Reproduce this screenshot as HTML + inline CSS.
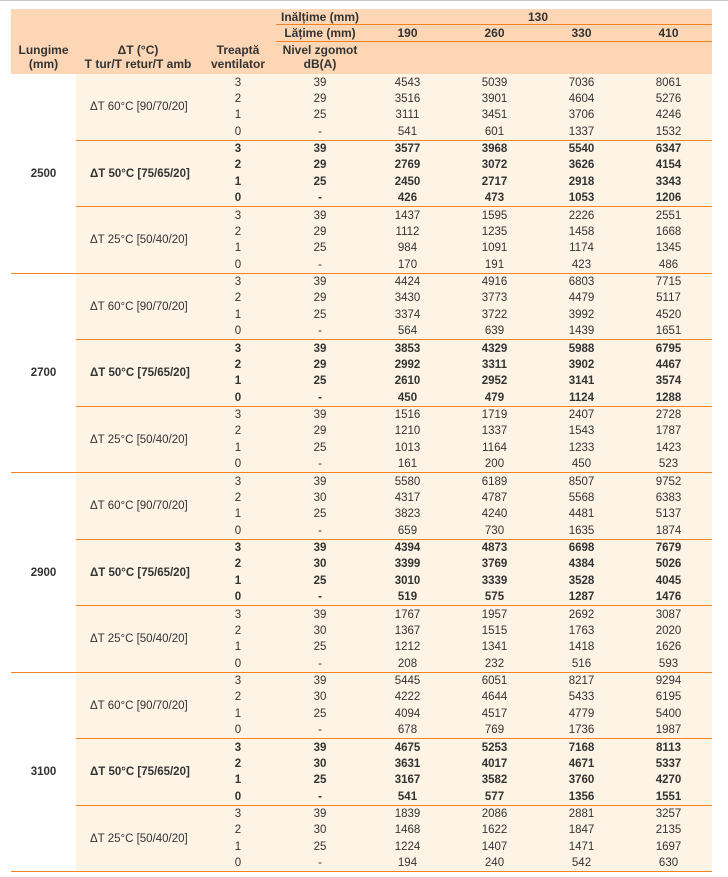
<!DOCTYPE html>
<html><head><meta charset="utf-8"><style>
body{margin:0;width:728px;height:877px;background:#fff;font-family:"Liberation Sans",sans-serif;color:#333;position:relative;overflow:hidden}
.top{position:absolute;left:0;top:0;width:728px;height:1px;background:#c8c8c8}
table{position:absolute;left:11px;top:9px;width:701px;border-collapse:collapse;table-layout:fixed;font-size:11.5px}
td{padding:0;text-align:center;height:16.39px;line-height:14px;white-space:nowrap;background:#fef4e6}
thead td{background:#fcd6b5;font-weight:bold;font-size:12px;line-height:14px}
.hl td.b{border-bottom:1px solid #f58220}
td.L{background:#fff;font-weight:bold}
td.dt{text-align:left;padding-left:14px}
tr.s td{border-top:1px solid #f58220}
tr.g td{border-top:1px solid #f58220}
.bd td{font-weight:bold}
tr.last td, td.LL{border-bottom:1px solid #f58220}
</style></head><body><div class="top"></div>
<table>
<colgroup><col style="width:65px"><col style="width:124px"><col style="width:76px"><col style="width:88px"><col style="width:87px"><col style="width:87px"><col style="width:87px"><col style="width:87px"></colgroup>
<thead>
<tr class="hl"><td rowspan="3" style="vertical-align:bottom;padding-bottom:3px;height:auto">Lungime<br>(mm)</td><td rowspan="3" style="vertical-align:bottom;padding-bottom:3px;height:auto">ΔT (°C)<br>T tur/T retur/T amb</td><td rowspan="3" style="vertical-align:bottom;padding-bottom:3px;height:auto">Treaptă<br>ventilator</td><td class="b" style="height:15px">Inălțime (mm)</td><td class="b" colspan="4" style="height:15px">130</td></tr>
<tr class="hl"><td class="b" style="height:16px">Lățime (mm)</td><td class="b" style="height:16px">190</td><td class="b">260</td><td class="b">330</td><td class="b">410</td></tr>
<tr><td style="vertical-align:top;padding-top:1px;height:31px">Nivel zgomot<br>dB(A)</td><td></td><td></td><td></td><td></td></tr>
</thead>
<tbody id="b"></tbody>
</table>
<script>
const D={
2500:[[[3,39,4543,5039,7036,8061],[2,29,3516,3901,4604,5276],[1,25,3111,3451,3706,4246],[0,'-',541,601,1337,1532]],
[[3,39,3577,3968,5540,6347],[2,29,2769,3072,3626,4154],[1,25,2450,2717,2918,3343],[0,'-',426,473,1053,1206]],
[[3,39,1437,1595,2226,2551],[2,29,1112,1235,1458,1668],[1,25,984,1091,1174,1345],[0,'-',170,191,423,486]]],
2700:[[[3,39,4424,4916,6803,7715],[2,29,3430,3773,4479,5117],[1,25,3374,3722,3992,4520],[0,'-',564,639,1439,1651]],
[[3,39,3853,4329,5988,6795],[2,29,2992,3311,3902,4467],[1,25,2610,2952,3141,3574],[0,'-',450,479,1124,1288]],
[[3,39,1516,1719,2407,2728],[2,29,1210,1337,1543,1787],[1,25,1013,1164,1233,1423],[0,'-',161,200,450,523]]],
2900:[[[3,39,5580,6189,8507,9752],[2,30,4317,4787,5568,6383],[1,25,3823,4240,4481,5137],[0,'-',659,730,1635,1874]],
[[3,39,4394,4873,6698,7679],[2,30,3399,3769,4384,5026],[1,25,3010,3339,3528,4045],[0,'-',519,575,1287,1476]],
[[3,39,1767,1957,2692,3087],[2,30,1367,1515,1763,2020],[1,25,1212,1341,1418,1626],[0,'-',208,232,516,593]]],
3100:[[[3,39,5445,6051,8217,9294],[2,30,4222,4644,5433,6195],[1,25,4094,4517,4779,5400],[0,'-',678,769,1736,1987]],
[[3,39,4675,5253,7168,8113],[2,30,3631,4017,4671,5337],[1,25,3167,3582,3760,4270],[0,'-',541,577,1356,1551]],
[[3,39,1839,2086,2881,3257],[2,30,1468,1622,1847,2135],[1,25,1224,1407,1471,1697],[0,'-',194,240,542,630]]]};
const T=['ΔT 60°C [90/70/20]','ΔT 50°C [75/65/20]','ΔT 25°C [50/40/20]'];
let h='',gi=0;
for(const L of [2500,2700,2900,3100]){
 D[L].forEach((sg,si)=>{sg.forEach((r,ri)=>{
  let cls=[];if(si==1)cls.push('bd');
  if(ri==0&&si>0)cls.push('s');if(ri==0&&si==0&&gi>0)cls.push('g');
  if(L==3100&&si==2&&ri==3)cls.push('last');
  h+='<tr class="'+cls.join(' ')+'">';
  if(si==0&&ri==0)h+='<td class="L'+(L==3100?' LL':'')+'" rowspan="12">'+L+'</td>';
  if(ri==0)h+='<td class="dt'+(L==3100&&si==2?' LL':'')+'" rowspan="4"'+(si==1?' style="font-weight:bold"':'')+'>'+T[si]+'</td>';
  h+=r.map(v=>'<td>'+v+'</td>').join('')+'</tr>';});});gi++;}
document.getElementById('b').innerHTML=h;
</script>
</body></html>
